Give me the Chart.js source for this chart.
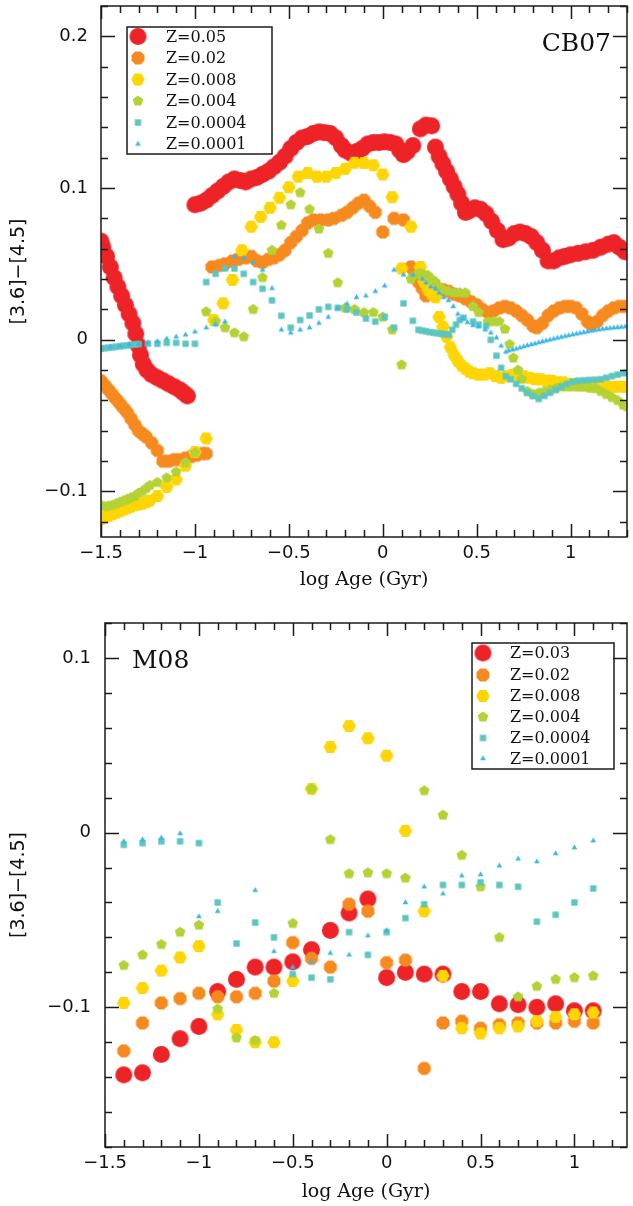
<!DOCTYPE html>
<html><head><meta charset="utf-8">
<script src="https://cdn.jsdelivr.net/npm/chart.js@4.4.1/dist/chart.umd.min.js"></script>
<style>
html,body{margin:0;padding:0;background:#fff;}
#wrap{position:relative;width:633px;height:1206px;background:#fff;}
#c1{position:absolute;left:0;top:0;width:633px;height:600px;}
#c2{position:absolute;left:0;top:600px;width:633px;height:606px;}
</style></head><body>
<div id="wrap"><canvas id="c1" width="633" height="600"></canvas><canvas id="c2" width="633" height="606"></canvas></div>
<script>
// ---------------- DATA ----------------
const cb07Labels = ['Z=0.05','Z=0.02','Z=0.008','Z=0.004','Z=0.0004','Z=0.0001'];
const m08Labels  = ['Z=0.03','Z=0.02','Z=0.008','Z=0.004','Z=0.0004','Z=0.0001'];
const xTickValues = [-1.5,-1,-0.5,0,0.5,1];
const yTickTop = [-0.1,0,0.1,0.2];
const yTickBottom = [-0.1,0,0.1];

// CB07 panel: [log age, colour]
const cb07_Z05 = [
[-1.50,0.065],[-1.49,0.061],[-1.47,0.055],[-1.45,0.048],[-1.43,0.041],[-1.41,0.035],[-1.39,0.029],[-1.37,0.023],[-1.35,0.017],[-1.33,0.011],[-1.315,0.004],[-1.30,-0.004],[-1.29,-0.010],[-1.275,-0.016],[-1.255,-0.020],[-1.23,-0.023],[-1.20,-0.025],[-1.17,-0.027],[-1.14,-0.029],[-1.11,-0.031],[-1.08,-0.033],[-1.06,-0.035],[-1.04,-0.037],
[-1.00,0.089],[-0.97,0.090],[-0.94,0.092],[-0.91,0.095],[-0.88,0.098],[-0.85,0.101],[-0.82,0.104],[-0.79,0.106],[-0.76,0.105],[-0.73,0.104],[-0.70,0.106],[-0.67,0.107],[-0.64,0.109],[-0.61,0.111],[-0.58,0.114],[-0.55,0.117],[-0.52,0.121],[-0.49,0.126],[-0.46,0.130],[-0.43,0.133],[-0.40,0.134],[-0.37,0.136],[-0.34,0.137],[-0.31,0.1365],[-0.28,0.136],[-0.25,0.133],[-0.22,0.128],[-0.20,0.125],[-0.17,0.123],[-0.14,0.124],[-0.11,0.126],[-0.08,0.129],[-0.05,0.130],[-0.02,0.130],[0.01,0.1305],[0.04,0.130],[0.07,0.129],[0.09,0.125],[0.11,0.122],[0.13,0.124],[0.16,0.128],
[0.20,0.139],[0.23,0.1415],[0.26,0.141],
[0.28,0.127],[0.30,0.121],[0.32,0.116],[0.34,0.111],[0.36,0.106],[0.38,0.101],[0.40,0.096],[0.42,0.090],[0.44,0.084],[0.46,0.085],[0.49,0.087],[0.52,0.086],[0.55,0.083],[0.58,0.078],[0.61,0.072],[0.64,0.066],[0.67,0.067],[0.70,0.070],[0.73,0.071],[0.76,0.070],[0.79,0.068],[0.82,0.064],[0.85,0.059],[0.88,0.052],[0.91,0.052],[0.94,0.054],[0.97,0.055],[1.00,0.056],[1.04,0.057],[1.08,0.058],[1.12,0.059],[1.16,0.061],[1.20,0.063],[1.23,0.064],[1.26,0.061],[1.29,0.058]
];
const cb07_Z02 = [
[-1.50,-0.027],[-1.48,-0.030],[-1.46,-0.033],[-1.44,-0.036],[-1.42,-0.039],[-1.40,-0.042],[-1.38,-0.045],[-1.36,-0.048],[-1.34,-0.052],[-1.32,-0.056],[-1.30,-0.060],[-1.28,-0.062],[-1.26,-0.064],[-1.23,-0.068],[-1.20,-0.073],[-1.17,-0.080],[-1.14,-0.080],[-1.11,-0.079],[-1.08,-0.079],[-1.05,-0.078],[-1.02,-0.077],[-0.99,-0.076],[-0.96,-0.075],[-0.94,-0.075],
[-0.91,0.048],[-0.87,0.049],[-0.84,0.050],[-0.80,0.052],[-0.77,0.053],[-0.73,0.054],[-0.70,0.055],[-0.67,0.052],[-0.64,0.051],[-0.61,0.053],[-0.58,0.054],[-0.55,0.056],[-0.52,0.059],[-0.49,0.064],[-0.46,0.068],[-0.43,0.072],[-0.40,0.077],[-0.37,0.079],[-0.33,0.079],[-0.29,0.079],[-0.26,0.080],[-0.22,0.082],[-0.19,0.084],[-0.16,0.087],[-0.13,0.090],[-0.10,0.092],[-0.07,0.088],[-0.04,0.084],[0.00,0.071],[0.06,0.080],[0.11,0.079],
[0.15,0.048],[0.17,0.044],[0.19,0.038],[0.21,0.034],[0.23,0.029],[0.26,0.030],[0.29,0.032],[0.32,0.033],[0.35,0.032],[0.38,0.030],[0.41,0.029],[0.44,0.027],[0.47,0.025],[0.50,0.023],[0.53,0.020],[0.56,0.018],[0.59,0.019],[0.62,0.021],[0.65,0.022],[0.68,0.021],[0.71,0.019],[0.74,0.016],[0.77,0.013],[0.80,0.009],[0.82,0.008],[0.85,0.011],[0.88,0.016],[0.91,0.019],[0.94,0.021],[0.97,0.022],[1.00,0.022],[1.03,0.021],[1.06,0.017],[1.09,0.012],[1.11,0.010],[1.14,0.012],[1.17,0.016],[1.20,0.019],[1.23,0.021],[1.26,0.022],[1.29,0.022]
];
const cb07_Z008 = [
[-1.50,-0.118],[-1.48,-0.117],[-1.46,-0.116],[-1.44,-0.115],[-1.42,-0.114],[-1.40,-0.113],[-1.38,-0.112],[-1.36,-0.111],[-1.34,-0.110],[-1.32,-0.109],[-1.30,-0.1085],[-1.28,-0.108],[-1.26,-0.107],[-1.24,-0.106],[-1.20,-0.103],[-1.15,-0.097],[-1.10,-0.092],[-1.05,-0.083],[-1.00,-0.074],[-0.94,-0.065],
[-0.90,0.013],[-0.85,0.024],[-0.80,0.0395],[-0.75,0.059],[-0.70,0.0745],[-0.65,0.081],[-0.60,0.087],[-0.55,0.0936],[-0.50,0.1005],[-0.45,0.1075],[-0.40,0.110],[-0.35,0.1075],[-0.30,0.1075],[-0.25,0.110],[-0.20,0.1127],[-0.15,0.1167],[-0.10,0.1165],[-0.05,0.115],[0.00,0.109],[0.05,0.094],[0.15,0.0745],
[0.10,0.047],[0.20,0.048],[0.22,0.038],[0.24,0.033],[0.26,0.030],[0.28,0.028],
[0.30,0.015],[0.32,0.0086],[0.34,0.002],[0.36,-0.005],[0.38,-0.010],[0.40,-0.014],[0.42,-0.017],[0.44,-0.019],[0.46,-0.021],[0.48,-0.022],[0.51,-0.023],[0.54,-0.023],[0.57,-0.022],[0.60,-0.024],[0.63,-0.025],[0.66,-0.024],[0.69,-0.023],[0.72,-0.023],[0.75,-0.024],[0.78,-0.025],[0.81,-0.026],[0.84,-0.026],[0.87,-0.027],[0.90,-0.027],[0.93,-0.028],[0.96,-0.028],[0.99,-0.029],[1.02,-0.029],[1.05,-0.030],[1.08,-0.030],[1.11,-0.031],[1.14,-0.031],[1.17,-0.031],[1.20,-0.031],[1.23,-0.031],[1.26,-0.031],[1.29,-0.031]
];
const cb07_Z004 = [
[-1.50,-0.109],[-1.48,-0.110],[-1.46,-0.1095],[-1.44,-0.109],[-1.42,-0.108],[-1.40,-0.107],[-1.38,-0.106],[-1.36,-0.105],[-1.34,-0.104],[-1.32,-0.103],[-1.30,-0.101],[-1.28,-0.100],[-1.26,-0.098],[-1.24,-0.096],[-1.20,-0.094],[-1.15,-0.091],[-1.10,-0.087],[-1.05,-0.081],[-1.00,-0.0745],
[-0.94,0.0185],[-0.89,0.012],[-0.84,0.008],[-0.79,0.0046],[-0.74,0.002],[-0.69,0.020],[-0.64,0.041],[-0.59,0.059],[-0.54,0.0755],[-0.49,0.089],[-0.44,0.097],[-0.39,0.086],[-0.34,0.073],[-0.29,0.057],[-0.24,0.0376],[-0.20,0.021],[-0.15,0.020],[-0.10,0.018],[-0.05,0.018],[0.00,0.015],[0.05,0.0066],[0.10,-0.0165],
[0.15,0.040],[0.18,0.043],[0.20,0.044],[0.22,0.043],[0.24,0.0425],[0.26,0.040],[0.28,0.038],[0.30,0.035],[0.32,0.033],[0.35,0.032],[0.38,0.031],[0.41,0.031],[0.44,0.031],[0.48,0.022],[0.51,0.018],[0.56,0.012],[0.59,0.012],[0.62,0.012],[0.65,0.007],[0.675,-0.003],[0.695,-0.012],[0.72,-0.020],[0.74,-0.026],[0.77,-0.034],[0.80,-0.036],[0.83,-0.035],[0.86,-0.034],[0.89,-0.033],[0.92,-0.032],[0.95,-0.031],[0.98,-0.031],[1.01,-0.031],[1.04,-0.031],[1.07,-0.031],[1.10,-0.0315],[1.13,-0.032],[1.16,-0.034],[1.19,-0.036],[1.22,-0.038],[1.25,-0.040],[1.28,-0.043],[1.30,-0.044]
];
const cb07_Z0004 = [
[-1.50,-0.0058],[-1.48,-0.0055],[-1.46,-0.0052],[-1.44,-0.0049],[-1.42,-0.0046],[-1.40,-0.0043],[-1.38,-0.0040],[-1.36,-0.0037],[-1.34,-0.0034],[-1.32,-0.0031],[-1.30,-0.0028],[-1.25,-0.0026],[-1.20,-0.0026],[-1.15,-0.002],[-1.10,-0.002],[-1.05,-0.0026],[-1.00,-0.0026],
[-0.94,0.038],[-0.89,0.0435],[-0.84,0.047],[-0.79,0.047],[-0.74,0.0435],[-0.69,0.038],[-0.64,0.0336],[-0.59,0.026],[-0.54,0.0158],[-0.49,0.008],[-0.44,0.013],[-0.39,0.016],[-0.34,0.020],[-0.29,0.0217],[-0.24,0.021],[-0.19,0.020],[-0.14,0.018],[-0.09,0.014],[-0.04,0.012],[0.01,0.015],[0.06,0.008],[0.11,0.024],[0.16,0.0125],
[0.19,0.0066],[0.21,0.006],[0.23,0.0056],[0.25,0.005],[0.27,0.0047],[0.29,0.0043],[0.31,0.004],[0.33,0.0036],[0.35,0.0033],[0.37,0.0066],[0.39,0.010],[0.41,0.013],[0.43,0.0145],[0.48,0.012],[0.51,0.010],[0.55,0.009],[0.575,0.000],[0.605,-0.0105],[0.63,-0.0185],
[0.655,-0.024],[0.68,-0.026],[0.71,-0.029],[0.74,-0.032],[0.77,-0.035],[0.80,-0.037],[0.83,-0.039],[0.86,-0.037],[0.89,-0.035],[0.92,-0.033],[0.95,-0.031],[0.98,-0.029],[1.01,-0.0277],[1.04,-0.027],[1.07,-0.0267],[1.10,-0.0265],[1.13,-0.0263],[1.16,-0.026],[1.19,-0.025],[1.22,-0.024],[1.25,-0.023],[1.28,-0.022],[1.30,-0.0215]
];
const cb07_Z0001 = [
[-1.50,-0.0058],[-1.45,-0.0048],[-1.40,-0.0040],[-1.35,-0.0032],[-1.30,-0.0025],[-1.25,-0.0018],[-1.20,-0.001],[-1.15,0.0007],[-1.10,0.002],[-1.05,0.0033],[-1.00,0.0053],[-0.94,0.008],[-0.89,0.010],[-0.84,0.012],
[-0.79,0.055],[-0.74,0.054],[-0.69,0.051],[-0.64,0.046],[-0.59,0.034],[-0.54,0.0066],[-0.49,0.0046],[-0.44,0.0066],[-0.39,0.008],[-0.34,0.011],[-0.29,0.015],[-0.24,0.021],[-0.19,0.0237],[-0.14,0.028],[-0.09,0.029],[-0.04,0.032],[0.01,0.0356],[0.06,0.046],[0.11,0.0428],[0.16,0.0428],
[0.21,0.040],[0.23,0.0376],[0.255,0.035],[0.28,0.0336],[0.30,0.031],[0.325,0.028],[0.35,0.026],[0.375,0.022],[0.40,0.017],[0.425,0.014],[0.45,0.0115],[0.48,0.0095],[0.51,0.0086],[0.545,0.0066],[0.575,0.0046],[0.605,0.0013],[0.63,-0.004],[0.655,-0.008],
[0.67,-0.0072],[0.69,-0.0066],[0.71,-0.006],[0.73,-0.0052],[0.75,-0.0045],[0.77,-0.0038],[0.79,-0.0031],[0.81,-0.0025],[0.83,-0.0018],[0.85,-0.0012],[0.87,-0.0006],[0.89,0.0000],[0.91,0.0006],[0.93,0.0012],[0.95,0.0018],[0.97,0.0024],[0.99,0.0029],[1.01,0.0034],[1.03,0.0039],[1.05,0.0044],[1.07,0.0049],[1.09,0.0054],[1.11,0.0059],[1.13,0.0063],[1.15,0.0067],[1.17,0.0071],[1.19,0.0074],[1.21,0.0077],[1.23,0.0080],[1.25,0.0082],[1.27,0.0084],[1.29,0.0086]
];

// M08 panel: common age grid
const m08Age = [-1.4,-1.3,-1.2,-1.1,-1.0,-0.9,-0.8,-0.7,-0.6,-0.5,-0.4,-0.3,-0.2,-0.1,0,0.1,0.2,0.3,0.4,0.5,0.6,0.7,0.8,0.9,1.0,1.1];
const m08_Z03   = [-0.1387,-0.1375,-0.127,-0.118,-0.111,-0.091,-0.084,-0.077,-0.077,-0.074,-0.067,-0.056,-0.046,-0.038,-0.083,-0.080,-0.081,-0.081,-0.091,-0.091,-0.098,-0.0985,-0.100,-0.098,-0.102,-0.102];
const m08_Z02   = [-0.125,-0.109,-0.0975,-0.095,-0.092,-0.094,-0.094,-0.092,-0.085,-0.063,-0.072,-0.077,-0.041,-0.045,-0.0745,-0.073,-0.135,-0.109,-0.108,-0.112,-0.110,-0.109,-0.109,-0.109,-0.108,-0.109];
const m08_Z008  = [-0.0975,-0.089,-0.079,-0.0715,-0.065,-0.104,-0.113,-0.120,-0.120,-0.085,0.025,0.049,0.061,0.054,0.044,0.001,-0.045,-0.082,-0.112,-0.115,-0.112,-0.111,-0.108,-0.1055,-0.104,-0.103];
const m08_Z004  = [-0.076,-0.070,-0.064,-0.057,-0.053,-0.101,-0.1175,-0.119,-0.092,-0.052,0.025,-0.004,-0.0235,-0.023,-0.0235,-0.026,0.024,0.010,-0.013,-0.031,-0.060,-0.094,-0.088,-0.084,-0.083,-0.082];
const m08_Z0004 = [-0.007,-0.006,-0.005,-0.005,-0.006,-0.040,-0.0635,-0.0515,-0.060,-0.081,-0.083,-0.084,-0.057,-0.070,-0.057,-0.049,-0.041,-0.030,-0.030,-0.0285,-0.030,-0.031,-0.051,-0.047,-0.040,-0.032];
const m08_Z0001 = [-0.005,-0.004,-0.003,-0.0005,-0.048,-0.045,null,-0.033,-0.068,-0.077,-0.074,-0.069,-0.070,-0.059,-0.056,-0.040,-0.031,-0.035,-0.0247,-0.024,-0.019,-0.015,-0.0166,-0.012,-0.0086,-0.0046];

// ---------------- STYLE ----------------
const COLORS = ['#ED2328','#F68A1F','#FFD503','#B3D234','#5BC5C0','#3CB6E6'];
function marker(sides, r, color, rotDeg){
  const s = Math.ceil(2*r+2);
  const c = document.createElement('canvas'); c.width = s; c.height = s;
  const g = c.getContext('2d'); g.fillStyle = color; g.beginPath();
  if (sides === 0) { g.arc(s/2, s/2, r, 0, Math.PI*2); }
  else {
    for (let k=0;k<sides;k++){
      const a = (rotDeg + k*360/sides)*Math.PI/180;
      const px = s/2 + r*Math.cos(a), py = s/2 + r*Math.sin(a);
      if (k===0) g.moveTo(px,py); else g.lineTo(px,py);
    }
    g.closePath();
  }
  g.fill();
  return c;
}
const MARKERS = [
  marker(0, 8.5, COLORS[0], 0),
  marker(8, 7.0, COLORS[1], 22.5),
  marker(6, 6.8, COLORS[2], 0),
  marker(5, 5.6, COLORS[3], -90),
  marker(4, 4.5, COLORS[4], 45),
  marker(3, 3.3, COLORS[5], -90)
];

function fmt(v){ if (Math.abs(v) < 1e-9) return '0'; return (v<0?'\u2212':'') + String(+Math.abs(v).toFixed(2)); }

const framePlugin = {
  id:'frame',
  afterDatasetsDraw(chart, args, o){
    const {ctx, chartArea:a} = chart; const x = chart.scales.x, y = chart.scales.y;
    ctx.save();
    ctx.strokeStyle = '#1b1b1b'; ctx.lineWidth = 1.5;
    ctx.beginPath();
    const seg=(x0,y0,x1,y1)=>{ctx.moveTo(x0,y0);ctx.lineTo(x1,y1);};
    for (let i=Math.ceil(x.min*10-1e-6); i<=Math.floor(x.max*10+1e-6); i++){
      const px = Math.round(x.getPixelForValue(i/10))+0.5;
      const L = (i%5===0) ? 13 : 7;
      seg(px,a.bottom,px,a.bottom-L); seg(px,a.top,px,a.top+L);
    }
    for (let i=Math.ceil(y.min*50-1e-6); i<=Math.floor(y.max*50+1e-6); i++){
      const py = Math.round(y.getPixelForValue(i/50))+0.5;
      const L = (i%5===0) ? 14 : 7;
      seg(a.left,py,a.left+L,py); seg(a.right,py,a.right-L,py);
    }
    ctx.stroke();
    ctx.strokeRect(a.left, a.top, a.right-a.left, a.bottom-a.top);
    ctx.restore();
  },
  afterDraw(chart, args, o){
    const ctx = chart.ctx; ctx.save();
    const b = o.box;
    ctx.strokeStyle = '#1b1b1b'; ctx.lineWidth = 1.5;
    ctx.strokeRect(b[0], b[1], b[2]-b[0], b[3]-b[1]);
    ctx.fillStyle = '#111'; ctx.font = '16px "DejaVu Serif"'; ctx.textBaseline = 'middle'; ctx.textAlign = 'left';
    chart.data.datasets.forEach((ds,i)=>{
      const m = ds.pointStyle; const ry = o.rows[i];
      ctx.drawImage(m, o.mx - m.width/2, ry - m.height/2);
      ctx.fillText(ds.label, o.tx, ry+1);
    });
    ctx.font = '25px "DejaVu Serif"'; ctx.textAlign = o.labelAlign;
    ctx.fillText(o.label, o.labelX, o.labelY);
    ctx.restore();
  }
};

function datasets(labels, seriesList){
  return seriesList.map((pts,i)=>({
    label: labels[i],
    data: pts,
    pointStyle: MARKERS[i],
    pointRadius: 5,
    pointHoverRadius: 5,
    showLine: false,
    order: 6-i
  }));
}
const toXY = (arr)=>arr.map(p=>({x:p[0], y:p[1]}));
const gridXY = (ys)=>m08Age.map((a,i)=>({x:a, y:ys[i]})).filter(p=>p.y!==null);

function options(c){
  return {
    responsive:false, animation:false, events:[],
    layout:{padding:c.pad},
    plugins:{legend:{display:false}, tooltip:{enabled:false}, frame:c.frame},
    scales:{
      x:{type:'linear', min:c.xMin, max:c.xMax,
         afterBuildTicks:s=>{s.ticks = xTickValues.map(v=>({value:v}));},
         afterFit:s=>{s.height = c.xh; s.paddingLeft = 0; s.paddingRight = 0; s.paddingTop = 0; s.paddingBottom = 0;},
         grid:{display:false, drawTicks:false}, border:{display:false},
         ticks:{padding:c.xtp, autoSkip:false, maxRotation:0, color:'#111', font:{family:'DejaVu Sans', size:18}, callback:(v)=>fmt(v)},
         title:{display:true, text:'log Age (Gyr)', color:'#111', font:{family:'DejaVu Serif', size:19}, padding:{top:0, bottom:c.xtitle}}},
      y:{type:'linear', min:c.yMin, max:c.yMax,
         afterBuildTicks:s=>{s.ticks = c.yTicks.map(v=>({value:v}));},
         afterFit:s=>{s.width = c.yw; s.paddingTop = 0; s.paddingBottom = 0; s.paddingLeft = 0; s.paddingRight = 0;},
         grid:{display:false, drawTicks:false}, border:{display:false},
         ticks:{padding:c.ytp, autoSkip:false, color:'#111', font:{family:'DejaVu Sans', size:18}, callback:(v)=>fmt(v)},
         title:{display:true, text:'[3.6]\u2212[4.5]', color:'#111', font:{family:'DejaVu Sans', size:19}, padding:{top:8, bottom:0}}}
    }
  };
}

new Chart(document.getElementById('c1'), {
  type:'scatter',
  data:{datasets: datasets(cb07Labels, [cb07_Z05,cb07_Z02,cb07_Z008,cb07_Z004,cb07_Z0004,cb07_Z0001].map(toXY))},
  options: options({pad:{left:0,right:1,top:5,bottom:0}, xMin:-1.5, xMax:1.3, yMin:-0.13, yMax:0.22, yTicks:yTickTop, xh:63, yw:101, xtp:6, ytp:13, xtitle:9,
    frame:{box:[127,27,272,154], rows:[36.5,58,79.5,101,122.5,144], mx:138, tx:166, label:'CB07', labelX:611, labelY:44, labelAlign:'right'}}),
  plugins:[framePlugin]
});

new Chart(document.getElementById('c2'), {
  type:'scatter',
  data:{datasets: datasets(m08Labels, [m08_Z03,m08_Z02,m08_Z008,m08_Z004,m08_Z0004,m08_Z0001].map(gridXY))},
  options: options({pad:{left:0,right:5,top:23,bottom:0}, xMin:-1.5, xMax:1.28, yMin:-0.18, yMax:0.12, yTicks:yTickBottom, xh:59, yw:105, xtp:6, ytp:14, xtitle:3,
    frame:{box:[472,43,614,169], rows:[53,75,96,117,138,158.5], mx:483, tx:510, label:'M08', labelX:132, labelY:61, labelAlign:'left'}}),
  plugins:[framePlugin]
});
</script>
</body></html>
